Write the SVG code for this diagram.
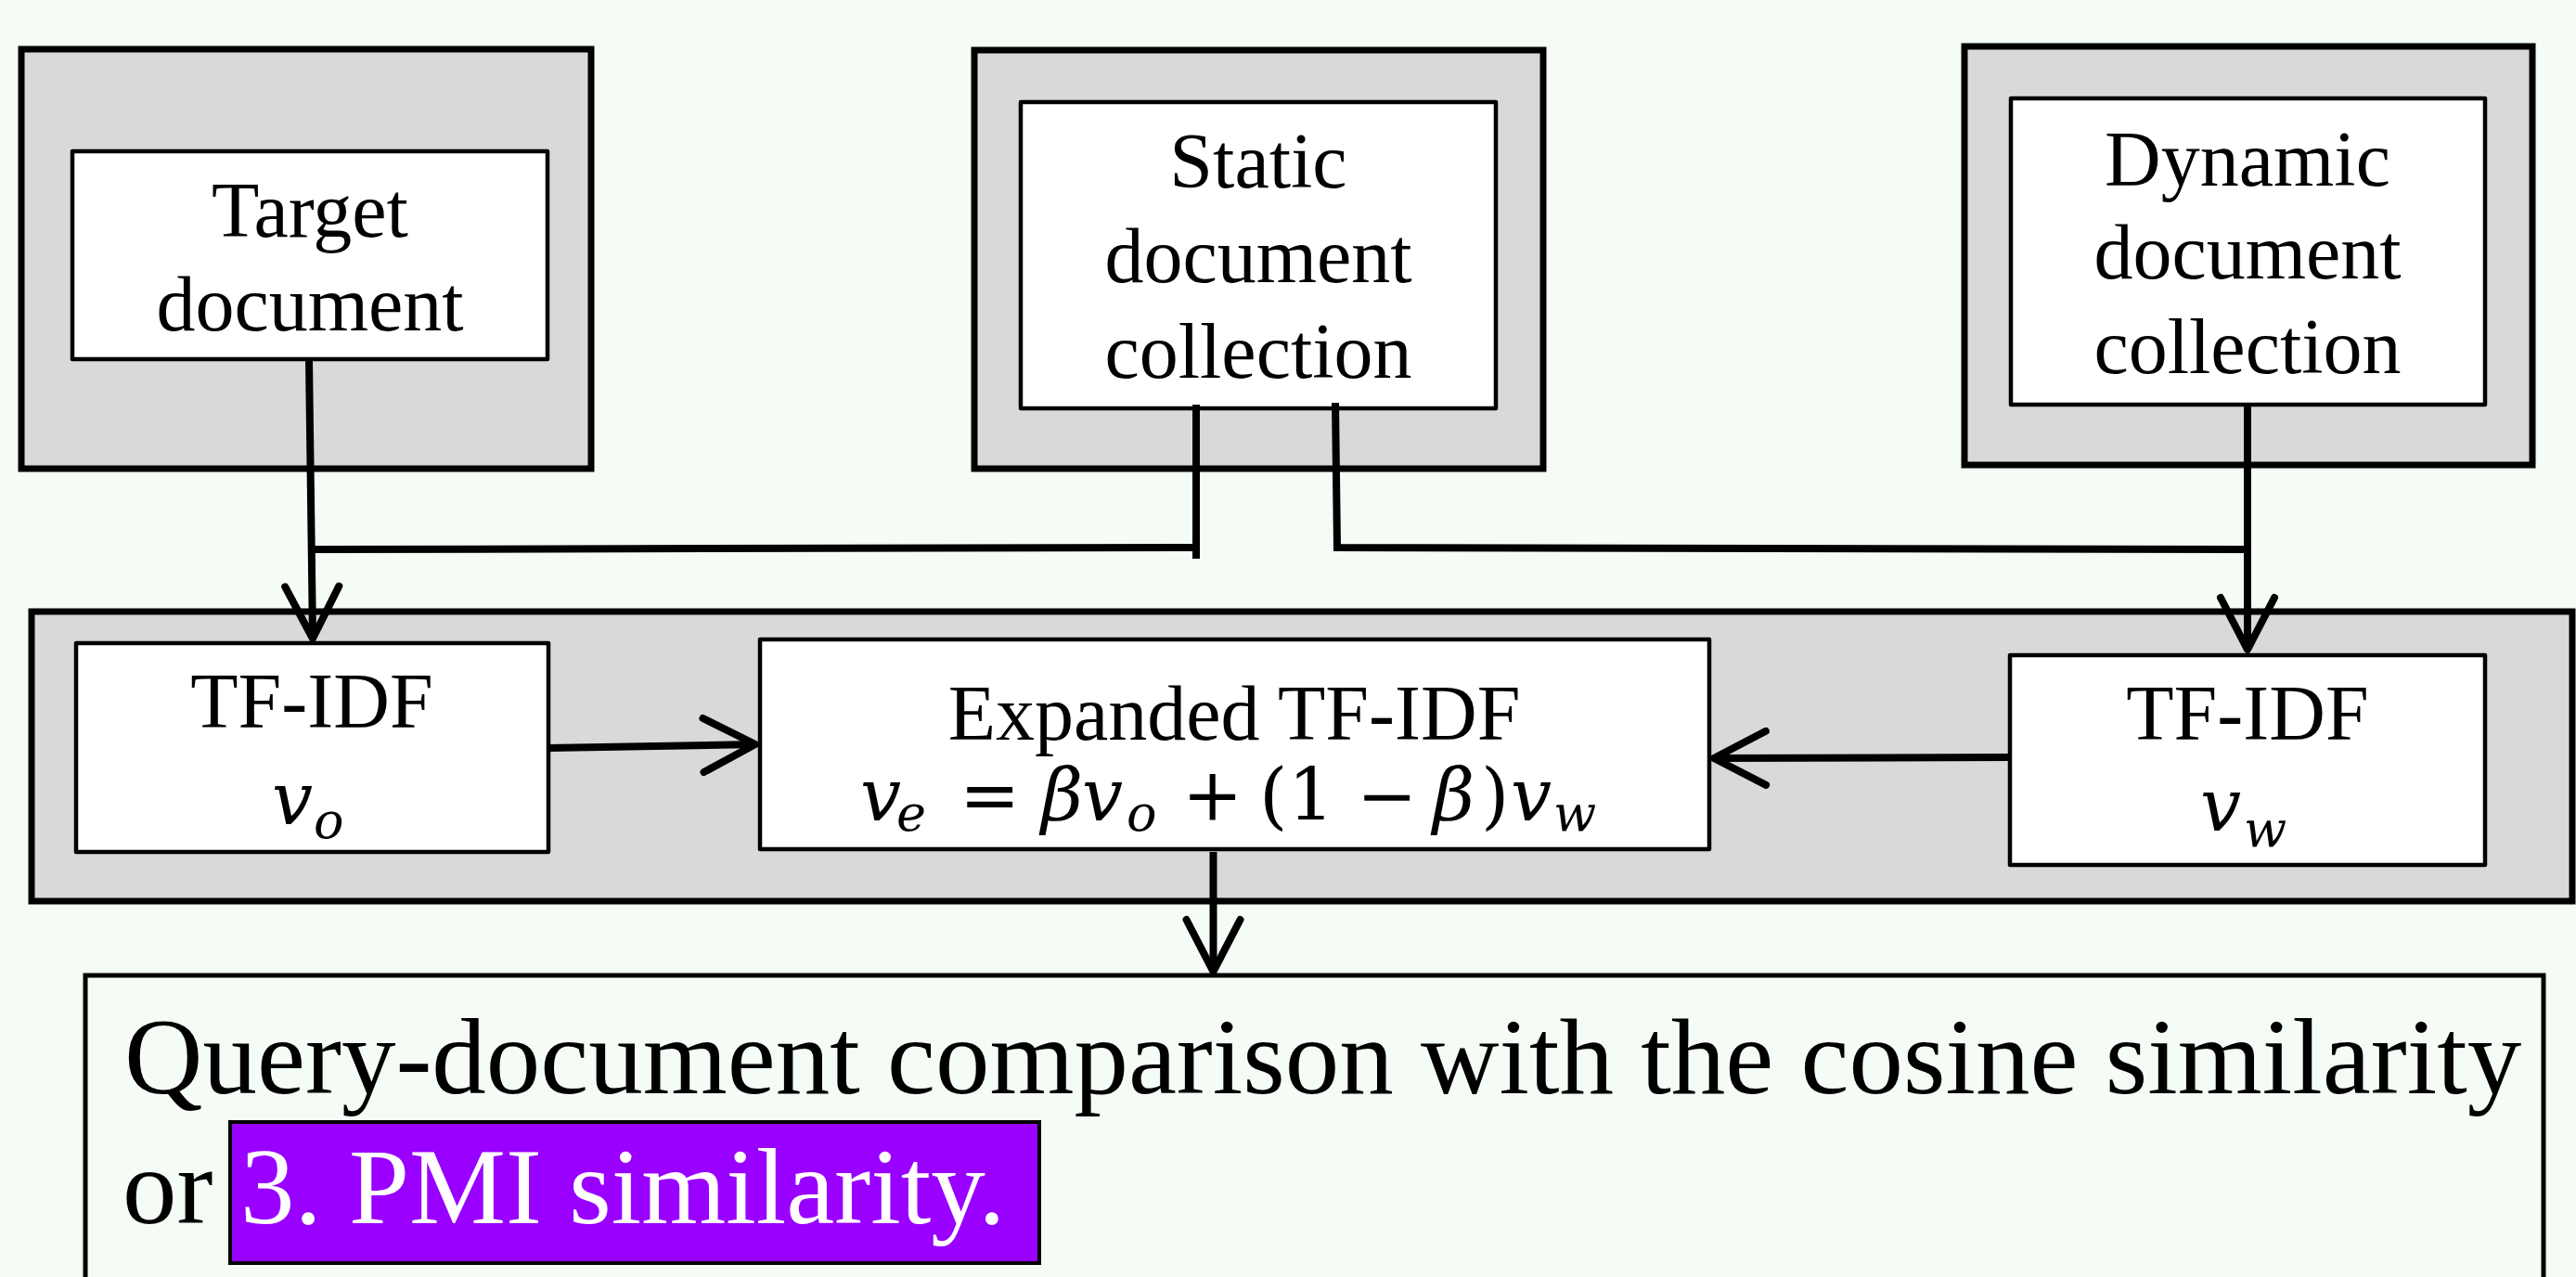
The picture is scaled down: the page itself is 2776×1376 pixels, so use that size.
<svg xmlns="http://www.w3.org/2000/svg" width="2776" height="1376" viewBox="0 0 2776 1376">
<style>
.outer{fill:#D9D9D9;stroke:#000;stroke-width:7}
.inner{fill:#FFFFFF;stroke:#000;stroke-width:4.5;stroke-linejoin:round}
.lbl{font-family:"Liberation Serif","Times New Roman",serif;font-size:84px;fill:#000;text-anchor:middle}
.math{font-family:"DejaVu Serif","Liberation Serif",serif;font-size:78px;fill:#000}
.mi{font-style:italic}
.sub{font-size:54px;font-style:italic}
.big{font-family:"Liberation Serif","Times New Roman",serif;font-size:117px;fill:#000}
.conn{fill:none;stroke:#000;stroke-width:8;stroke-linecap:butt;stroke-linejoin:miter}
</style>
<defs>
<marker id="arr" markerUnits="userSpaceOnUse" markerWidth="90" markerHeight="90" viewBox="-70 -45 90 90" refX="0" refY="0" orient="auto" overflow="visible">
<path d="M -56 -29 L 0 0 L -56 29" fill="none" stroke="#000" stroke-width="8" stroke-linecap="round" stroke-linejoin="round"/>
</marker>
</defs>
<rect x="0" y="0" width="2776" height="1376" fill="#F5FCF5"/>

<g id="target">
<rect class="outer" x="23" y="53" width="614" height="452"/>
<rect class="inner" x="78" y="163" width="512" height="224"/>
<text class="lbl" x="334" y="255">Target</text>
<text class="lbl" x="334" y="356">document</text>
</g>

<g id="static">
<rect class="outer" x="1050" y="54" width="613" height="451"/>
<rect class="inner" x="1100" y="110" width="512" height="330"/>
<text class="lbl" x="1356" y="202">Static</text>
<text class="lbl" x="1356" y="304">document</text>
<text class="lbl" x="1356" y="407">collection</text>
</g>

<g id="dynamic">
<rect class="outer" x="2117" y="50" width="612" height="451"/>
<rect class="inner" x="2167" y="106" width="511" height="330"/>
<text class="lbl" x="2422" y="200">Dynamic</text>
<text class="lbl" x="2422" y="300">document</text>
<text class="lbl" x="2422" y="402">collection</text>
</g>

<g id="tfidf-container">
<rect class="outer" x="34" y="659" width="2738" height="312"/>
</g>

<g id="tfidf-o">
<rect class="inner" x="82" y="693" width="509" height="225"/>
<text class="lbl" x="336" y="784">TF-IDF</text>
<text class="math"><tspan class="mi" x="293" y="888">v</tspan><tspan class="sub" x="338" y="903">o</tspan></text>
</g>

<g id="expanded">
<rect class="inner" x="819" y="689" width="1023" height="226"/>
<text class="lbl" x="1330" y="797">Expanded TF-IDF</text>
<text class="math"><tspan class="mi" x="927" y="884">v</tspan><tspan class="sub" x="966" y="895">e</tspan><tspan x="1034" y="884">=</tspan><tspan class="mi" x="1122" y="884">β</tspan><tspan class="mi" x="1166" y="884">v</tspan><tspan class="sub" x="1214" y="895">o</tspan><tspan x="1274" y="884">+</tspan><tspan x="1357" y="884">(</tspan><tspan x="1388" y="884">1</tspan><tspan x="1462" y="884">−</tspan><tspan class="mi" x="1544" y="884">β</tspan><tspan x="1596" y="884">)</tspan><tspan class="mi" x="1628" y="884">v</tspan><tspan class="sub" x="1674" y="895">w</tspan></text>
</g>

<g id="tfidf-w">
<rect class="inner" x="2166" y="706" width="512" height="226"/>
<text class="lbl" x="2422" y="797">TF-IDF</text>
<text class="math"><tspan class="mi" x="2371" y="895">v</tspan><tspan class="sub" x="2418" y="912">w</tspan></text>
</g>

<g id="result">
<rect x="92" y="1051" width="2649" height="400" fill="none" stroke="#000" stroke-width="5"/>
<text class="big" x="134" y="1178">Query-document comparison with the cosine similarity</text>
<text class="big" x="132" y="1318">or</text>
<rect x="248" y="1209" width="872" height="152" fill="#9900FF" stroke="#000" stroke-width="4"/>
<text class="big" x="259" y="1318" style="fill:#FFFFFF">3. PMI similarity.</text>
</g>

<g id="connectors">
<path class="conn" d="M 333 387 L 337 688" marker-end="url(#arr)"/>
<path class="conn" d="M 334 592 L 1289 590"/>
<path class="conn" d="M 1289 436 L 1289 602"/>
<path class="conn" d="M 1439 434 L 1441 590 L 2422 592"/>
<path class="conn" d="M 2422 436 L 2422 700" marker-end="url(#arr)"/>
<path class="conn" d="M 591 806 L 814 802" marker-end="url(#arr)"/>
<path class="conn" d="M 2166 816 L 1847 817" marker-end="url(#arr)"/>
<path class="conn" d="M 1307.5 918 L 1307.5 1047" marker-end="url(#arr)"/>
</g>
</svg>
